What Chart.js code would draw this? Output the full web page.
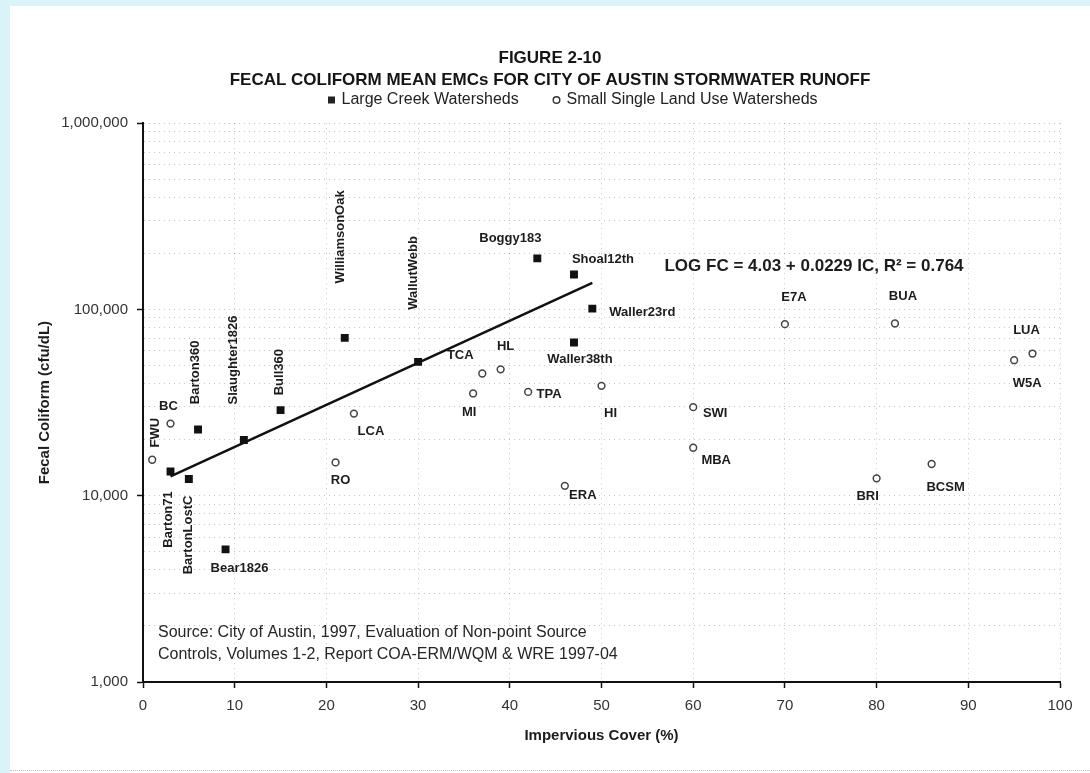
<!DOCTYPE html>
<html>
<head>
<meta charset="utf-8">
<script src="https://cdn.jsdelivr.net/npm/chart.js@4.4.1/dist/chart.umd.min.js"></script>
<style>
  html, body { margin: 0; padding: 0; }
  body { background: #d9f3f8; width: 1090px; height: 773px; overflow: hidden; position: relative; }
  #panel { position: absolute; left: 10px; top: 6px; width: 1080px; height: 767px; background: #fff; }
  #panel canvas { display: block; }
  #rule { position: absolute; left: 10px; right: 0; top: 770px; border-top: 1px dotted #c4c4c4; }
</style>
</head>
<body>
<div id="panel"><canvas id="chartCanvas" width="1080" height="767"></canvas></div>
<div id="rule"></div>
<script>
// dados
const largeNames = ['Barton71', 'BartonLostC', 'Barton360', 'Slaughter1826', 'Bull360', 'Bear1826',
  'WilliamsonOak', 'WallutWebb', 'Boggy183', 'Shoal12th', 'Waller23rd', 'Waller38th'];
const largeCover = [3, 5, 6, 11, 15, 9, 22, 30, 43, 47, 49, 47];
const largeFC = [13500, 12300, 22700, 19900, 28800, 5150, 70400, 52300, 188000, 154000, 101000, 66500];

const smallNames = ['FWU', 'BC', 'RO', 'LCA', 'MI', 'TCA', 'HL', 'TPA', 'HI', 'ERA', 'SWI', 'MBA',
  'E7A', 'BUA', 'BRI', 'BCSM', 'W5A', 'LUA'];
const smallCover = [1, 3, 21, 23, 36, 37, 39, 42, 50, 46, 60, 60, 70, 82, 80, 86, 95, 97];
const smallFC = [15600, 24400, 15100, 27600, 35400, 45300, 47700, 36100, 38900, 11300, 29900, 18100,
  83400, 84100, 12400, 14800, 53400, 58000];

// reta de regressao (extremos lidos)
const fitCover = [3, 49];
const fitFC = [12700, 139000];

const yTickValues = [1000, 10000, 100000, 1000000];
const yTickLabels = ['1,000', '10,000', '100,000', '1,000,000'];

const FONT = '"Liberation Sans", Arial, sans-serif';

// deslocamento dos rotulos em relacao ao ponto (px), true = texto vertical
const labelPos = {
  Barton71: [-2, 48, true], BartonLostC: [0, 56, true], Barton360: [-3, -57, true],
  Slaughter1826: [-10, -80, true], Bull360: [-1, -38, true], Bear1826: [14, 19],
  WilliamsonOak: [-4, -101, true], WallutWebb: [-5, -89, true], Boggy183: [-27, -20],
  Shoal12th: [29, -15], Waller23rd: [50, 4], Waller38th: [6, 17],
  FWU: [3, -27, true], BC: [-2, -17], RO: [5, 18], LCA: [17, 18], MI: [-4, 19],
  TCA: [-22, -18], HL: [5, -23], TPA: [21, 3], HI: [9, 28], ERA: [18, 10],
  SWI: [22, 6], MBA: [23, 13], E7A: [9, -27], BUA: [8, -27], BRI: [-9, 18],
  BCSM: [14, 23], W5A: [13, 23], LUA: [-6, -23]
};

function toPoints(xs, ys) {
  return xs.map((x, i) => ({ x: x, y: ys[i] }));
}

const pointLabels = {
  id: 'pointLabels',
  afterDatasetsDraw(chart) {
    const ctx = chart.ctx;
    ctx.save();
    ctx.fillStyle = '#1c1c1c';
    ctx.font = 'bold 13px ' + FONT;
    ctx.textAlign = 'center';
    ctx.textBaseline = 'middle';
    [[0, largeNames], [1, smallNames]].forEach(([i, names]) => {
      chart.getDatasetMeta(i).data.forEach((pt, j) => {
        const p = labelPos[names[j]];
        ctx.save();
        ctx.translate(pt.x + p[0], pt.y + p[1]);
        if (p[2]) ctx.rotate(-Math.PI / 2);
        ctx.fillText(names[j], 0, 0);
        ctx.restore();
      });
    });

    const a = chart.chartArea;
    ctx.font = 'bold 17px ' + FONT;
    ctx.fillText('LOG FC = 4.03 + 0.0229 IC, R\u00b2 = 0.764', a.left + 671, a.top + 143);

    ctx.font = '16px ' + FONT;
    ctx.fillStyle = '#262626';
    ctx.textAlign = 'left';
    ctx.fillText('Source: City of Austin, 1997, Evaluation of Non-point Source', a.left + 15, a.top + 509);
    ctx.fillText('Controls, Volumes 1-2, Report COA-ERM/WQM & WRE 1997-04', a.left + 15, a.top + 531);
    ctx.restore();
  }
};

// legenda desenhada a mao para ficar na mesma linha da figura
const legendRow = {
  id: 'legendRow',
  afterDraw(chart) {
    const ctx = chart.ctx;
    const ds = chart.data.datasets;
    ctx.save();
    ctx.font = '16px ' + FONT;
    ctx.fillStyle = '#222';
    ctx.textBaseline = 'middle';
    ctx.fillRect(318, 90.5, 7, 7);
    ctx.fillText(ds[0].label, 331.5, 94);
    ctx.beginPath();
    ctx.arc(546.5, 94, 3.3, 0, Math.PI * 2);
    ctx.lineWidth = 1.4;
    ctx.strokeStyle = '#333';
    ctx.stroke();
    ctx.fillText(ds[1].label, 556.5, 94);
    ctx.restore();
  }
};

const gridColor = 'rgba(0,0,0,0.22)';

const ctx = document.getElementById('chartCanvas').getContext('2d');
const chart = new Chart(ctx, {
  type: 'scatter',
  data: {
    datasets: [{
      label: 'Large Creek Watersheds',
      data: toPoints(largeCover, largeFC),
      pointStyle: 'rect',
      pointRadius: 5.6,
      backgroundColor: '#111',
      borderColor: '#111',
      borderWidth: 0
    }, {
      label: 'Small Single Land Use Watersheds',
      data: toPoints(smallCover, smallFC),
      pointStyle: 'circle',
      pointRadius: 3.4,
      backgroundColor: '#fff',
      borderColor: '#444',
      borderWidth: 1.5
    }, {
      label: 'LOG FC',
      data: toPoints(fitCover, fitFC),
      showLine: true,
      pointRadius: 0,
      borderColor: '#111',
      borderWidth: 2.5
    }]
  },
  options: {
    responsive: false,
    animation: false,
    events: [],
    layout: { padding: { left: 30, right: 30, top: 0, bottom: 0 } },
    plugins: {
      legend: { display: false },
      tooltip: { enabled: false },
      title: {
        display: true,
        text: ['FIGURE 2-10', 'FECAL COLIFORM MEAN EMCs FOR CITY OF AUSTIN STORMWATER RUNOFF'],
        color: '#151515',
        font: { family: FONT, size: 17, weight: 'bold', lineHeight: 1.3 },
        padding: { top: 41, bottom: 32 }
      }
    },
    scales: {
      x: {
        type: 'linear',
        min: 0,
        max: 100,
        afterFit: s => { s.height = 91; },
        ticks: {
          stepSize: 10,
          color: '#333',
          padding: 9,
          font: { family: FONT, size: 15 }
        },
        grid: {
          color: gridColor,
          lineWidth: 1,
          tickLength: 6,
          tickColor: '#111',
          tickWidth: 1.5
        },
        border: { display: true, color: '#111', width: 2, dash: [1, 4] },
        title: {
          display: true,
          text: 'Impervious Cover (%)',
          color: '#1c1c1c',
          font: { family: FONT, size: 15, weight: 'bold' },
          padding: { top: 0, bottom: 28 }
        }
      },
      y: {
        type: 'logarithmic',
        min: 1000,
        max: 1000000,
        afterFit: s => { s.width = 103; },
        afterBuildTicks: s => {
          const vals = [];
          yTickValues.forEach((d, k) => {
            const top = k === yTickValues.length - 1 ? 1 : 9;
            for (let m = 1; m <= top; m++) vals.push(d * m);
          });
          s.ticks = vals.map(v => ({ value: v }));
        },
        ticks: {
          autoSkip: false,
          color: '#333',
          padding: 9,
          font: { family: FONT, size: 15 },
          callback: v => {
            const k = yTickValues.indexOf(v);
            return k >= 0 ? yTickLabels[k] : '';
          }
        },
        grid: {
          color: gridColor,
          lineWidth: 1,
          tickLength: 6,
          tickWidth: 1.5,
          tickColor: c => (yTickValues.indexOf(c.tick.value) >= 0 ? '#111' : 'rgba(0,0,0,0)')
        },
        border: { display: true, color: '#111', width: 2, dash: [1, 4] },
        title: {
          display: true,
          text: 'Fecal Coliform (cfu/dL)',
          color: '#1c1c1c',
          font: { family: FONT, size: 15, weight: 'bold' },
          padding: { top: -4, bottom: 0 }
        }
      }
    }
  },
  plugins: [pointLabels, legendRow]
});
</script>
</body>
</html>
